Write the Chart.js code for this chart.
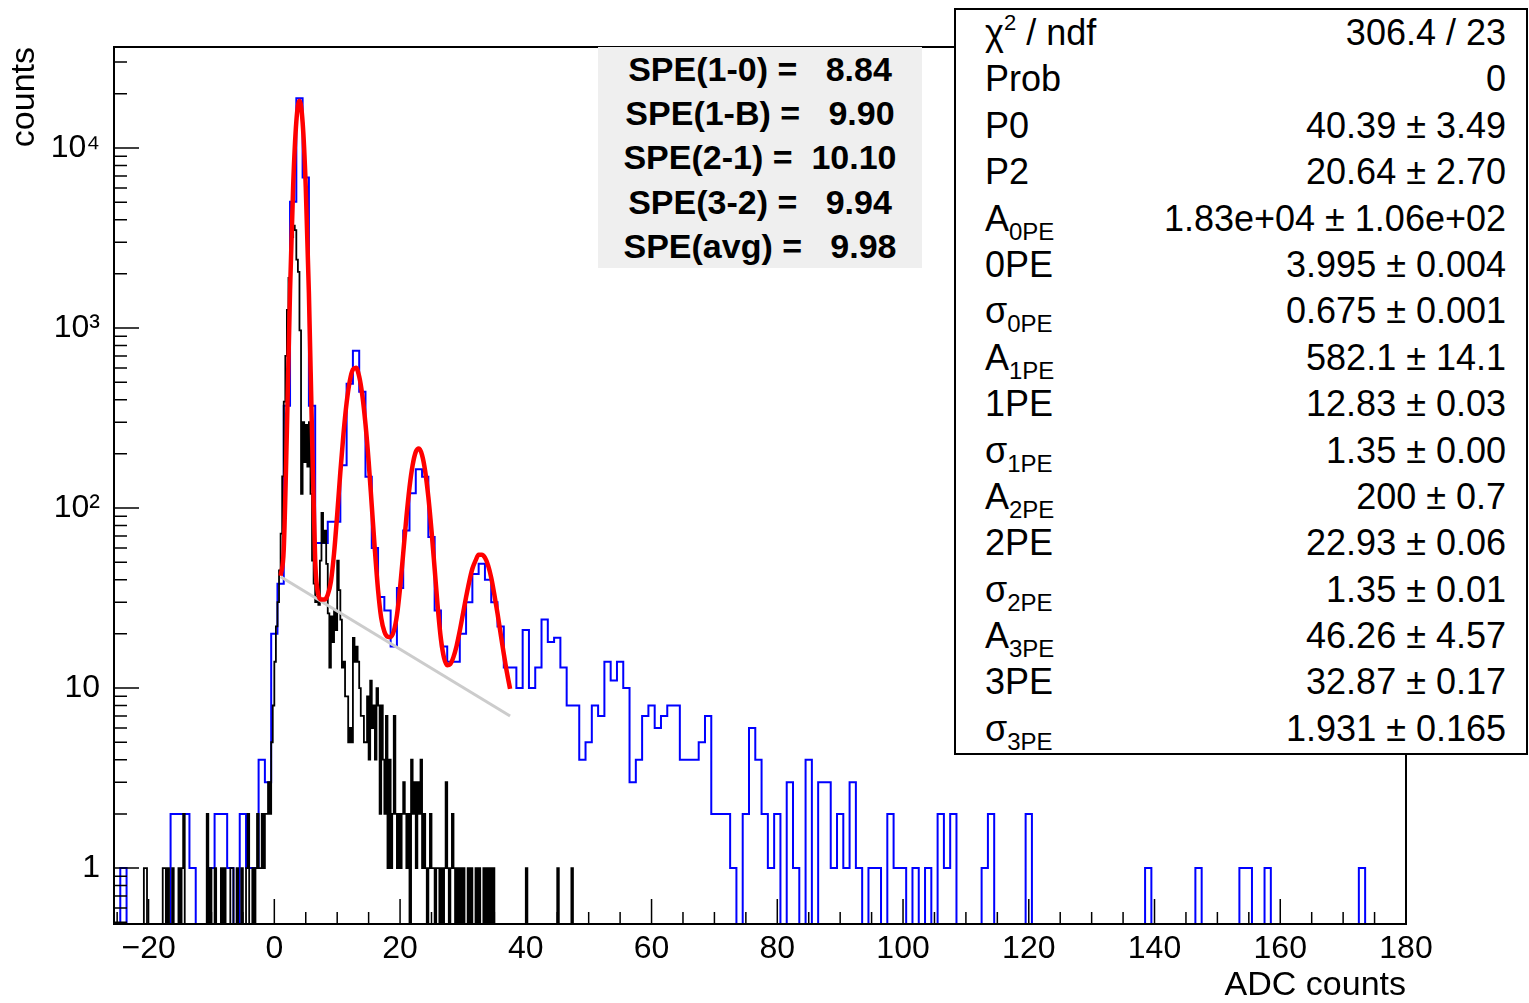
<!DOCTYPE html>
<html>
<head>
<meta charset="utf-8">
<script src="https://cdn.jsdelivr.net/npm/chart.js@4/dist/chart.umd.min.js"></script>
<style>
  html, body { margin: 0; padding: 0; background: #fff; }
  #wrap { position: relative; width: 1529px; height: 1003px; overflow: hidden; }
  #plot { position: absolute; left: 0; top: 0; }
  .pave { position: absolute; font-family: "Liberation Sans", Arial, Helvetica, sans-serif; color: #000; }
  #spe { left: 598px; top: 47px; width: 324px; height: 221px; background: #efefef; font-weight: bold; font-size: 34px; text-align: center; }
  #spe div { height: 44.2px; line-height: 44.2px; white-space: pre; }
  #stats { left: 954px; top: 8px; width: 574px; height: 747px; box-sizing: border-box; border: 2px solid #000; background: #fff; font-size: 36px; padding: 0 20px 0 29px; }
  #stats .row { display: flex; justify-content: space-between; height: 46.4px; line-height: 46.4px; white-space: pre; }
  #stats sub { font-size: 24px; vertical-align: -9px; line-height: 0; }
  #stats sup { font-size: 22px; vertical-align: 15px; line-height: 0; }
</style>
</head>
<body>
<div id="wrap">
  <canvas id="plot" width="1529" height="1003"></canvas>
  <div id="spe" class="pave"></div>
  <div id="stats" class="pave"></div>
</div>
<script>
// --- axis ranges and ticks ---
const xMin = -25.5, xMax = 180;
const yMin = 0.489, yMax = 36400;
const xTicks = [-20, 0, 20, 40, 60, 80, 100, 120, 140, 160, 180];
const yTicks = [1, 10, 100, 1000, 10000];
const yTickLabels = ['1', '10', '10\u00b2', '10\u00b3', '10\u2074'];

// --- blue histogram (1 ADC count bins, first bin starts at -25.5) ---
const blueStart = -25.5, blueWidth = 1;
const blueCounts = [
  0, 1, 0, 0, 0, 0, 0, 0, 0, 2,
  2, 2, 1, 0, 0, 1, 2, 2, 1, 0,
  2, 1, 1, 4, 3, 20, 38, 370, 5030, 18900,
  6850, 370, 64, 64, 84, 84, 173, 491, 748, 443,
  149, 60, 32, 27, 17, 36, 75, 121, 164, 149,
  69, 27, 17, 14, 14, 20, 30, 43, 49, 40,
  30, 22, 13, 13, 10, 21, 10, 13, 24, 18,
  19, 13, 8, 8, 4, 5, 8, 7, 14, 11,
  14, 10, 3, 4, 7, 8, 6, 7, 8, 8,
  4, 4, 4, 5, 7, 2, 2, 2, 1, 0,
  2, 6, 4, 2, 1, 2, 0, 3, 1, 0,
  4, 0, 3, 3, 1, 2, 1, 3, 1, 0,
  1, 1, 0, 2, 1, 1, 0, 1, 0, 1,
  0, 2, 1, 2, 0, 0, 0, 0, 1, 2,
  0, 0, 0, 0, 0, 2, 0, 0, 0, 0,
  0, 0, 0, 0, 0, 0, 0, 0, 0, 0,
  0, 0, 0, 0, 1, 0, 0, 0, 0, 0,
  0, 0, 1, 0, 0, 0, 0, 0, 0, 1,
  1, 0, 0, 1, 0, 0, 0, 0, 0, 0,
  0, 0, 0, 0, 0, 0, 0, 0, 1, 0,
  0, 0, 0, 0, 0, 0
];

// --- black histogram (0.25 ADC count bins, first bin starts at -25.5) ---
const blackStart = -25.5, blackWidth = 0.25;
const blackCounts = [
  0, 0, 0, 0, 0, 0, 0, 0, 0, 0, 0, 0, 0, 0, 0, 0, 0, 0, 0, 1,
  1, 0, 0, 0, 0, 0, 0, 0, 0, 0, 0, 1, 1, 0, 1, 0, 0, 1, 0, 0,
  0, 1, 0, 1, 2, 0, 0, 0, 0, 0, 0, 0, 0, 0, 0, 0, 0, 0, 0, 2,
  0, 1, 0, 0, 1, 0, 0, 0, 1, 0, 1, 0, 0, 0, 1, 1, 0, 0, 1, 0,
  0, 1, 0, 0, 1, 2, 0, 0, 1, 0, 1, 2, 1, 1, 2, 1, 2, 2, 3, 2,
  5, 8, 14, 22, 30, 45, 72, 150, 390, 700, 1260, 1900, 2600, 3200, 3700, 3500, 2400, 2050, 970, 120,
  300, 180, 290, 170, 300, 120, 51, 38, 30, 32, 29, 51, 94, 64, 75, 49, 26, 13, 25, 18,
  27, 21, 51, 35, 24, 13, 14, 9, 9, 5, 6, 5, 19, 14, 17, 14, 10, 7, 7, 5,
  5, 9, 4, 11, 6, 8, 4, 10, 8, 2, 8, 4, 2, 7, 1, 4, 1, 2, 7, 2,
  1, 2, 1, 2, 3, 2, 1, 2, 0, 4, 2, 3, 1, 3, 2, 4, 1, 2, 1, 0,
  1, 2, 1, 1, 0, 1, 1, 0, 1, 0, 1, 3, 1, 0, 1, 2, 1, 0, 1, 0,
  1, 0, 1, 0, 0, 1, 0, 1, 0, 0, 1, 0, 1, 0, 0, 1, 0, 1, 0, 1,
  0, 1, 0, 0, 0, 0, 0, 0, 0, 0, 0, 0, 0, 0, 0, 0, 0, 0, 0, 0,
  0, 0, 1, 0, 0, 0, 0, 0, 0, 0, 0, 0, 0, 0, 0, 0, 0, 0, 0, 0,
  0, 0, 1, 0, 0, 0, 0, 0, 0, 0, 0, 1, 0, 0, 0, 0, 0, 0, 0, 0
];

// --- red fit curve ---
const fitX = [
  1, 1.5, 2, 2.5, 3, 3.5, 4, 4.5, 5, 5.5,
  6, 6.5, 7, 7.5, 8, 8.5, 9, 9.5, 10, 10.5,
  11, 11.5, 12, 12.5, 13, 13.5, 14, 14.5, 15, 15.5,
  16, 16.5, 17, 17.5, 18, 18.5, 19, 19.5, 20, 20.5,
  21, 21.5, 22, 22.5, 23, 23.5, 24, 24.5, 25, 25.5,
  26, 26.5, 27, 27.5, 28, 28.5, 29, 29.5, 30, 30.5,
  31, 31.5, 32, 32.5, 33, 33.5, 34, 34.5, 35, 35.5,
  36, 36.5, 37, 37.5
];
const fitY = [
  42, 59, 270, 1610, 6210, 14000, 18300, 13900, 6080, 1560,
  256, 51, 33, 31, 31, 33, 39, 56, 92, 158,
  258, 384, 507, 589, 601, 538, 422, 293, 182, 103,
  58, 35, 24.5, 20.6, 19.3, 19.2, 20.7, 25.3, 36, 56,
  88, 130, 173, 205, 214, 197, 160, 115, 75, 46,
  28, 18.7, 14.7, 13.4, 13.6, 14.9, 17.2, 20.8, 25.8, 32,
  39, 46, 51, 55, 55, 53, 48, 41, 33, 26,
  20, 15.5, 12.2, 9.9
];

// --- grey background line (straight on the log plot) ---
const bkgX = [1, 37.5];
const bkgY = [41.5, 7.0];

// --- text boxes ---
const speLines = ['SPE(1-0) =   8.84', 'SPE(1-B) =   9.90', 'SPE(2-1) =  10.10', 'SPE(3-2) =   9.94', 'SPE(avg) =   9.98'];
const statNames = ['\u03c7<sup>2</sup> / ndf', 'Prob', 'P0', 'P2', 'A<sub>0PE</sub>', '0PE', '\u03c3<sub>0PE</sub>',
  'A<sub>1PE</sub>', '1PE', '\u03c3<sub>1PE</sub>', 'A<sub>2PE</sub>', '2PE', '\u03c3<sub>2PE</sub>',
  'A<sub>3PE</sub>', '3PE', '\u03c3<sub>3PE</sub>'];
const statValues = ['306.4 / 23', '0', '40.39 \u00b1 3.49', '20.64 \u00b1 2.70', '1.83e+04 \u00b1 1.06e+02',
  '3.995 \u00b1 0.004', '0.675 \u00b1 0.001', '582.1 \u00b1 14.1', '12.83 \u00b1 0.03', '1.35 \u00b1 0.00',
  '200 \u00b1 0.7', '22.93 \u00b1 0.06', '1.35 \u00b1 0.01', '46.26 \u00b1 4.57', '32.87 \u00b1 0.17',
  '1.931 \u00b1 0.165'];

document.getElementById('spe').innerHTML = speLines.map(l => `<div>${l}</div>`).join('');
document.getElementById('stats').innerHTML = statNames.map((n, i) =>
  `<div class="row"><span>${n}</span><span>${statValues[i]}</span></div>`).join('');

// empty bins are pushed below the frame so the outline drops to the axis
const floorValue = yMin / 10;

function histPoints(start, width, counts) {
  const pts = [{ x: start, y: floorValue }];
  counts.forEach((c, i) => pts.push({ x: start + i * width, y: c > 0 ? c : floorValue }));
  const end = start + counts.length * width;
  const last = counts[counts.length - 1];
  pts.push({ x: end, y: last > 0 ? last : floorValue });
  pts.push({ x: end, y: floorValue });
  return pts;
}

const FONT = "'Liberation Sans', Arial, Helvetica, sans-serif";
Chart.defaults.font.family = FONT;
Chart.defaults.color = '#000';

// ROOT style: ticks inside the frame, frame on top
const frameTicks = {
  id: 'frameTicks',
  afterDatasetsDraw(chart) {
    const { ctx, chartArea: a, scales: { x, y } } = chart;
    ctx.save();
    ctx.strokeStyle = '#000';
    ctx.lineWidth = 1.5;
    ctx.beginPath();
    for (let v = -25; v <= xMax; v += 5) {
      const px = x.getPixelForValue(v);
      const len = v % 20 === 0 ? 25 : 12;
      ctx.moveTo(px, a.bottom);
      ctx.lineTo(px, a.bottom - len);
    }
    for (let e = -1; e <= 4; e++) {
      for (let k = 1; k <= 9; k++) {
        const v = k * Math.pow(10, e);
        if (v < yMin || v > yMax) continue;
        const py = y.getPixelForValue(v);
        const len = k === 1 ? 25 : 13;
        ctx.moveTo(a.left, py);
        ctx.lineTo(a.left + len, py);
      }
    }
    ctx.stroke();
    ctx.lineWidth = 2;
    ctx.strokeRect(a.left, a.top, a.right - a.left, a.bottom - a.top);
    ctx.restore();
  }
};

new Chart(document.getElementById('plot'), {
  type: 'line',
  data: {
    datasets: [
      {
        label: 'fit',
        data: fitX.map((v, i) => ({ x: v, y: fitY[i] })),
        borderColor: '#ff0000', borderWidth: 4.5,
        cubicInterpolationMode: 'monotone',
        pointRadius: 0, order: 0
      },
      {
        label: 'background',
        data: bkgX.map((v, i) => ({ x: v, y: bkgY[i] })),
        borderColor: '#cccccc', borderWidth: 3,
        pointRadius: 0, order: 1
      },
      {
        label: 'black',
        data: histPoints(blackStart, blackWidth, blackCounts),
        borderColor: '#000000', borderWidth: 1.8,
        stepped: 'before', pointRadius: 0, order: 2
      },
      {
        label: 'blue',
        data: histPoints(blueStart, blueWidth, blueCounts),
        borderColor: '#0000ff', borderWidth: 2,
        stepped: 'before', pointRadius: 0, order: 3
      }
    ]
  },
  options: {
    responsive: false,
    devicePixelRatio: 1,
    animation: false,
    layout: { padding: { left: 0, top: 47, right: 123, bottom: 0 } },
    plugins: { legend: { display: false }, tooltip: { enabled: false } },
    scales: {
      x: {
        type: 'linear', min: xMin, max: xMax,
        afterBuildTicks: s => { s.ticks = xTicks.map(v => ({ value: v })); },
        afterFit: s => { s.height = 79; },
        ticks: {
          autoSkip: false, maxRotation: 0, padding: 6,
          font: { size: 32 }, color: '#000',
          callback: v => (v < 0 ? '\u2212' + Math.abs(v) : String(v))
        },
        grid: { display: false, drawTicks: false },
        border: { display: false },
        title: {
          display: true, text: 'ADC counts', align: 'end', color: '#000',
          font: { size: 34, lineHeight: 1 }, padding: { top: 0, bottom: 0 }
        }
      },
      y: {
        type: 'logarithmic', min: yMin, max: yMax,
        afterBuildTicks: s => { s.ticks = yTicks.map(v => ({ value: v })); },
        afterFit: s => { s.width = 114; },
        ticks: {
          autoSkip: false, padding: 14,
          font: { size: 32 }, color: '#000',
          callback: (v, i) => yTickLabels[i]
        },
        grid: { display: false, drawTicks: false },
        border: { display: false },
        title: {
          display: true, text: 'counts', align: 'end', color: '#000',
          font: { size: 34, lineHeight: 1 }, padding: { top: 8, bottom: 0 }
        }
      }
    }
  },
  plugins: [frameTicks]
});
</script>
</body>
</html>
